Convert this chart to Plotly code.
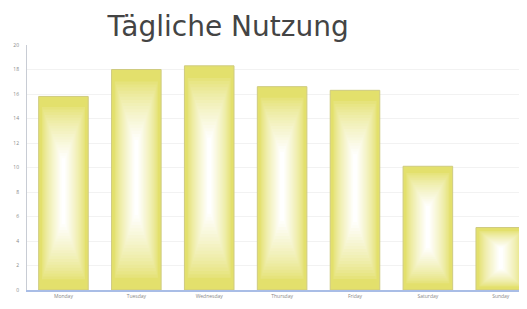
import plotly.graph_objects as go

days = ["Monday", "Tuesday", "Wednesday", "Thursday", "Friday", "Saturday", "Sunday"]
usage = [15.8, 18.0, 18.3, 16.6, 16.3, 10.1, 5.1]
y_ticks = [0, 2, 4, 6, 8, 10, 12, 14, 16, 18, 20]

fig = go.Figure()

# base bar
fig.add_trace(go.Bar(x=days, y=usage, width=0.68,
                     marker=dict(color="#e3e06c", line=dict(color="#cfcb80", width=1)),
                     hoverinfo="x+y", showlegend=False))

# glow layers to imitate the radial highlight in each bar (styling only)
edge = (0xe3, 0xe0, 0x6c)
n_layers = 20
for i in range(1, n_layers + 1):
    t = i / n_layers
    w = 0.62 * (1 - t) + 0.05 * t
    lo = 0.04 * (1 - t) + 0.34 * t
    hi = 0.96 * (1 - t) + 0.68 * t
    k = t ** 0.75
    col = "rgb({},{},{})".format(*[round(c + (255 - c) * k) for c in edge])
    fig.add_trace(go.Bar(x=days, y=[v * (hi - lo) for v in usage],
                         base=[v * lo for v in usage], width=w,
                         marker=dict(color=col, line=dict(width=0)),
                         hoverinfo="skip", showlegend=False))

# page body has an 8px default margin, so the figure is sized to fit the window
fig.update_layout(
    barmode="overlay",
    width=519, height=301,
    margin=dict(l=19, r=0, t=37, b=19),
    paper_bgcolor="white", plot_bgcolor="white",
    title=dict(text="Tägliche Nutzung", x=0.424, xanchor="center", y=0.972, yanchor="top",
               font=dict(family="DejaVu Sans", size=28, color="#444444")),
    xaxis=dict(range=[-0.5, 6.36], showgrid=False, showline=True, linecolor="#a9bde6",
               linewidth=2, ticks="", tickfont=dict(size=5, color="#888888"),
               fixedrange=True, automargin=False),
    yaxis=dict(range=[0, 20], tickvals=y_ticks, showgrid=True, gridcolor="#f2f2f2",
               showline=True, linecolor="#c8ccd4", linewidth=1, ticks="",
               tickfont=dict(size=5, color="#888888"), zeroline=False,
               ticklabelstandoff=6, automargin=False),
)

fig.write_html("out.html")
